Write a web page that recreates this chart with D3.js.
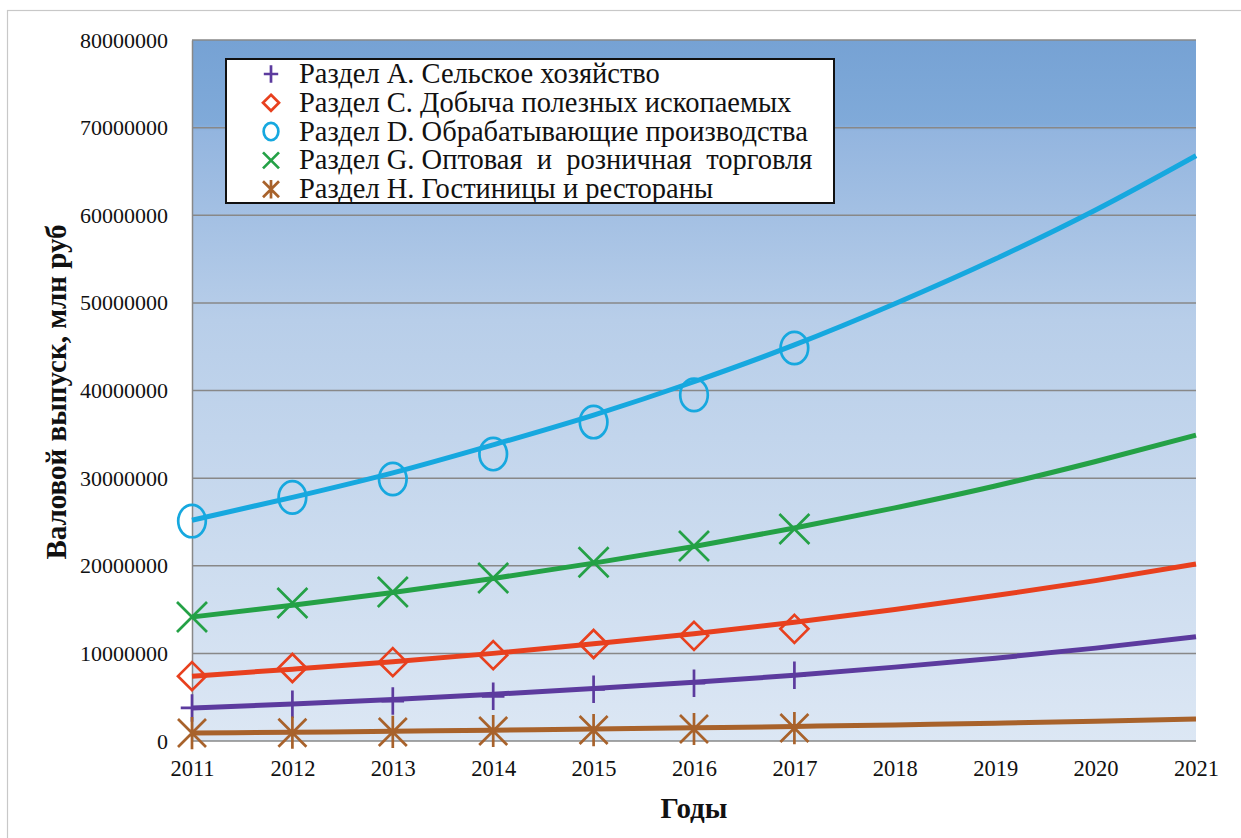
<!DOCTYPE html>
<html>
<head>
<meta charset="utf-8">
<script src="https://cdn.jsdelivr.net/npm/d3@7"></script>
<style>
  body { margin: 0; background: #fff; }
  svg text { font-family: "Liberation Serif", "Times New Roman", serif; }
</style>
</head>
<body>
<svg id="chart"></svg>
<script>
// data
const years = [2011, 2012, 2013, 2014, 2015, 2016, 2017];
const trendYears = [2011, 2012, 2013, 2014, 2015, 2016, 2017, 2018, 2019, 2020, 2021];
const yTicks = [0, 10000000, 20000000, 30000000, 40000000, 50000000, 60000000, 70000000, 80000000];

const seriesNames = [
    "Раздел А. Сельское хозяйство",
    "Раздел С. Добыча полезных ископаемых",
    "Раздел D. Обрабатывающие производства",
    "Раздел G. Оптовая  и  розничная  торговля",
    "Раздел H. Гостиницы и рестораны"
];

// actual values (markers), млн руб
const valuesA = [3770000, 4200000, 4560000, 5100000, 5900000, 6600000, 7500000];
const valuesC = [7400000, 8330000, 9000000, 9800000, 11070000, 12000000, 12800000];
const valuesD = [25100000, 27800000, 29900000, 32750000, 36400000, 39500000, 44850000];
const valuesG = [14150000, 15750000, 17000000, 18600000, 20400000, 22250000, 24200000];
const valuesH = [910000, 950000, 1030000, 1140000, 1250000, 1370000, 1480000];

// trend lines (values at each year)
const trendA = [3770000, 4230000, 4750000, 5330000, 5980000, 6700000, 7500000, 8430000, 9450000, 10600000, 11900000];
const trendC = [7400000, 8200000, 9050000, 10000000, 11100000, 12250000, 13550000, 15000000, 16600000, 18300000, 20200000];
const trendD = [25200000, 27800000, 30600000, 33800000, 37200000, 41000000, 45200000, 49900000, 55000000, 60600000, 66800000];
const trendG = [14150000, 15500000, 16950000, 18550000, 20300000, 22200000, 24300000, 26600000, 29100000, 31900000, 34900000];
const trendH = [910000, 1000000, 1110000, 1230000, 1360000, 1500000, 1660000, 1840000, 2030000, 2250000, 2500000];

const colors = ["#5c3b9e", "#e8401e", "#16a8df", "#24a146", "#a8622b"];
const markerTypes = ["plus", "diamond", "circle", "cross", "asterisk"];

const width = 1241, height = 838;
const margin = {top: 40, right: 45, bottom: 97, left: 192};
const plotW = width - margin.left - margin.right;
const plotH = height - margin.top - margin.bottom;

const svg = d3.select('#chart')
    .attr('width', width)
    .attr('height', height);

// outer frame (only top and left edges fall inside the picture)
svg.append('rect')
    .attr('x', 7.5).attr('y', 10.5)
    .attr('width', 1400).attr('height', 1000)
    .attr('fill', 'none')
    .attr('stroke', '#c8c8c8')
    .attr('stroke-width', 1.2);

// background gradient
const defs = svg.append('defs');
const grad = defs.append('linearGradient')
    .attr('id', 'bg')
    .attr('x1', 0).attr('y1', 0).attr('x2', 0).attr('y2', 1);
[["0%", "#76a2d4"], ["12%", "#80aad9"], ["13%", "#93b5df"], ["40%", "#b8cee9"], ["100%", "#dce7f4"]]
    .forEach(s => grad.append('stop').attr('offset', s[0]).attr('stop-color', s[1]));

const g = svg.append('g')
    .attr('transform', 'translate(' + margin.left + ',' + margin.top + ')');

const x = d3.scaleLinear().domain([2011, 2021]).range([0, plotW]);
const y = d3.scaleLinear().domain([0, 80000000]).range([plotH, 0]);

g.append('rect')
    .attr('width', plotW).attr('height', plotH)
    .attr('fill', 'url(#bg)');

// gridlines
g.append('g')
    .selectAll('line')
    .data(yTicks)
    .enter()
    .append('line')
    .attr('x1', 0).attr('x2', plotW)
    .attr('y1', d => y(d)).attr('y2', d => y(d))
    .attr('stroke', '#888')
    .attr('stroke-width', 1.5);

// Y axis
const yAxis = g.append('g')
    .call(d3.axisLeft(y).tickValues(yTicks).tickFormat(d3.format('d')).tickSize(0).tickPadding(24));
yAxis.select('.domain').attr('stroke', '#888').attr('stroke-width', 1.5);
yAxis.selectAll('text').attr('font-size', 22).attr('fill', '#111')
    .attr('font-family', '"Liberation Serif", serif');

// X axis
const xAxis = g.append('g')
    .attr('transform', 'translate(0,' + plotH + ')')
    .call(d3.axisBottom(x).tickValues(trendYears).tickFormat(d3.format('d')).tickSize(0).tickPadding(19));
xAxis.select('.domain').remove();
xAxis.selectAll('text').attr('font-size', 22.5).attr('fill', '#111')
    .attr('font-family', '"Liberation Serif", serif');

// axis titles
svg.append('text')
    .attr('transform', 'translate(66,392) rotate(-90)')
    .attr('text-anchor', 'middle')
    .attr('font-size', 29)
    .attr('font-weight', 'bold')
    .attr('fill', '#111')
    .text('Валовой выпуск, млн руб');

svg.append('text')
    .attr('x', 694).attr('y', 818)
    .attr('text-anchor', 'middle')
    .attr('font-size', 29)
    .attr('font-weight', 'bold')
    .attr('fill', '#111')
    .text('Годы');

// marker shapes
function markerPath(type, s) {
    if (type === "plus") return 'M0,' + (-s * 1.1) + 'V' + (s * 1.1) + 'M' + (-s * 0.9) + ',0H' + (s * 0.9);
    if (type === "diamond") return 'M0,' + (-s) + 'L' + s + ',0L0,' + s + 'L' + (-s) + ',0Z';
    if (type === "cross") return 'M' + (-s) + ',' + (-s) + 'L' + s + ',' + s + 'M' + (-s) + ',' + s + 'L' + s + ',' + (-s);
    if (type === "asterisk") return 'M' + (-s) + ',' + (-s) + 'L' + s + ',' + s + 'M' + (-s) + ',' + s + 'L' + s + ',' + (-s) + 'M0,' + (-s * 1.15) + 'V' + (s * 1.15);
    return null;
}

function drawMarker(sel, type, color, s, sw) {
    if (type === "circle") {
        sel.append('ellipse')
            .attr('rx', s * 0.92).attr('ry', s * 1.08)
            .attr('fill', 'none')
            .attr('stroke', color)
            .attr('stroke-width', sw);
    } else {
        sel.append('path')
            .attr('d', markerPath(type, s))
            .attr('fill', 'none')
            .attr('stroke', color)
            .attr('stroke-width', sw);
    }
}

const actual = [valuesA, valuesC, valuesD, valuesG, valuesH];
const trends = [trendA, trendC, trendD, trendG, trendH];
const sizes = [12.5, 14, 15, 15, 14];

const line = d3.line()
    .x((d, i) => x(trendYears[i]))
    .y(d => y(d))
    .curve(d3.curveMonotoneX);

// trend lines
trends.forEach(function(t, k) {
    g.append('path')
        .attr('d', line(t))
        .attr('fill', 'none')
        .attr('stroke', colors[k])
        .attr('stroke-width', 5);
});

// markers
actual.forEach(function(vals, k) {
    vals.forEach(function(v, i) {
        const m = g.append('g')
            .attr('transform', 'translate(' + x(years[i]) + ',' + y(v) + ')');
        drawMarker(m, markerTypes[k], colors[k], sizes[k], 2.7);
    });
});

// legend
const legend = svg.append('g');
legend.append('rect')
    .attr('x', 226).attr('y', 59)
    .attr('width', 608).attr('height', 144)
    .attr('fill', '#fff')
    .attr('stroke', '#111')
    .attr('stroke-width', 2);

seriesNames.forEach(function(name, k) {
    const cy = 74 + k * 28.8;
    const m = legend.append('g').attr('transform', 'translate(271,' + cy + ')');
    drawMarker(m, markerTypes[k], colors[k], 8, 2.7);
    legend.append('text')
        .attr('x', 299).attr('y', cy + 9)
        .attr('font-size', 28.5)
        .attr('fill', '#111')
        .attr('xml:space', 'preserve')
        .style('white-space', 'pre')
        .text(name);
});
</script>
</body>
</html>
